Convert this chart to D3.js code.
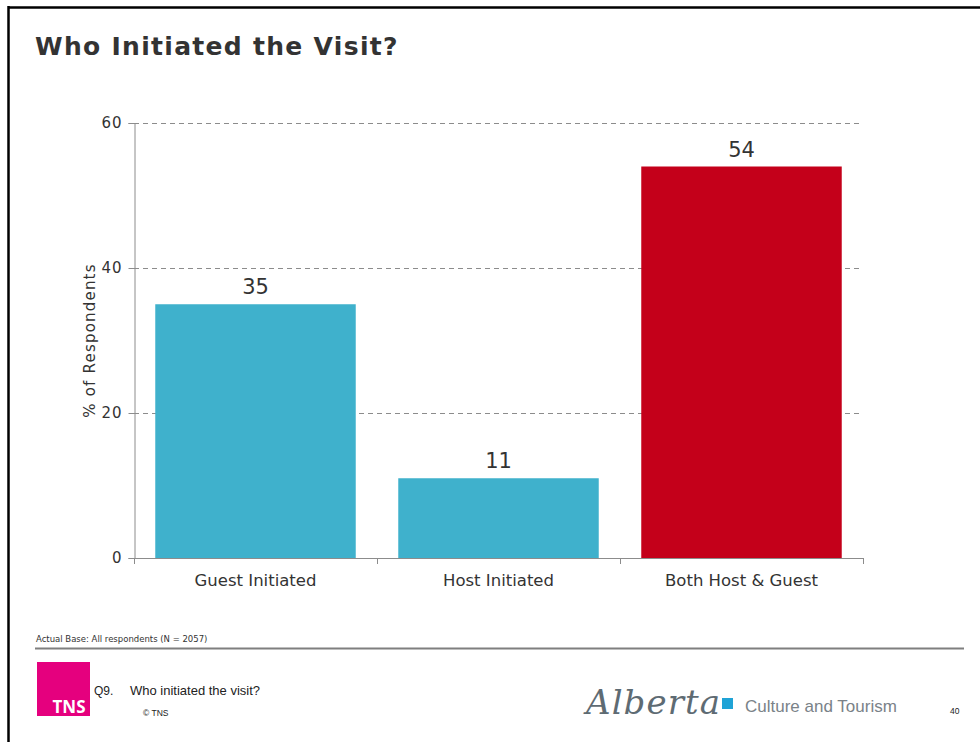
<!DOCTYPE html>
<html>
<head>
<meta charset="utf-8">
<script src="https://cdn.jsdelivr.net/npm/d3@7"></script>
<style>
  html, body { margin: 0; padding: 0; background: #fff; }
  svg { display: block; }
</style>
</head>
<body>
<svg id="chart" width="980" height="742"></svg>
<script>
// Survey results: who initiated the visit
const categories = ["Guest Initiated", "Host Initiated", "Both Host & Guest"];
const values = [35, 11, 54];
const barColors = ["#3fb1cc", "#3fb1cc", "#c4001a"];
const yTicks = [0, 20, 40, 60];

const svg = d3.select("#chart");
const textColor = "#333333";

// slide frame
svg.append("line").attr("x1", 8).attr("x2", 980).attr("y1", 7.5).attr("y2", 7.5)
  .attr("stroke", "#000").attr("stroke-width", 2.5);
svg.append("line").attr("x1", 8.5).attr("x2", 8.5).attr("y1", 6).attr("y2", 742)
  .attr("stroke", "#000").attr("stroke-width", 2.5);

// title
svg.append("text").attr("x", 35).attr("y", 55)
  .attr("font-family", "Verdana, 'DejaVu Sans', sans-serif")
  .attr("font-weight", "bold").attr("font-size", 25).attr("letter-spacing", 1.3)
  .attr("fill", textColor)
  .text("Who Initiated the Visit?");

// plot area
const plotLeft = 134, plotRight = 863, plotTop = 123, plotBottom = 558;
const x = d3.scaleBand().domain(categories).range([plotLeft, plotRight])
  .paddingInner(0.175).paddingOuter(0.0875);
const y = d3.scaleLinear().domain([0, 60]).range([plotBottom, plotTop]);

// dashed gridlines
svg.append("g").selectAll("line").data(yTicks.filter(d => d > 0)).join("line")
  .attr("x1", plotLeft).attr("x2", plotRight)
  .attr("y1", d => Math.round(y(d)) + 0.5).attr("y2", d => Math.round(y(d)) + 0.5)
  .attr("stroke", "#8c8c8c").attr("stroke-width", 1).attr("stroke-dasharray", "5,4");

// bars
svg.append("g").selectAll("rect").data(values).join("rect")
  .attr("x", (d, i) => x(categories[i]))
  .attr("width", x.bandwidth())
  .attr("y", d => y(d))
  .attr("height", d => y(0) - y(d))
  .attr("fill", (d, i) => barColors[i]);

// value labels
svg.append("g").selectAll("text").data(values).join("text")
  .attr("x", (d, i) => x(categories[i]) + x.bandwidth() / 2)
  .attr("y", d => y(d) - 10)
  .attr("text-anchor", "middle")
  .attr("font-family", "'DejaVu Sans', Verdana, sans-serif")
  .attr("font-size", 21).attr("fill", textColor)
  .text(d => d);

// y axis
const yAxis = d3.axisLeft(y).tickValues(yTicks).tickSize(6).tickPadding(6);
const gy = svg.append("g").attr("transform", `translate(${plotLeft + 0.5},0)`).call(yAxis);
gy.select(".domain").attr("stroke", "#8c8c8c");
gy.selectAll(".tick line").attr("stroke", "#8c8c8c");
gy.selectAll(".tick text").attr("font-family", "'DejaVu Sans', Verdana, sans-serif")
  .attr("font-size", 15).attr("letter-spacing", 1).attr("fill", textColor);

// x axis with boundary ticks between categories
svg.append("line").attr("x1", plotLeft).attr("x2", plotRight + 0.5)
  .attr("y1", plotBottom + 0.5).attr("y2", plotBottom + 0.5).attr("stroke", "#8c8c8c");
const bounds = [plotLeft, ...categories.map(c => x(c) + x.step() - x.step() * x.paddingInner() / 2)];
svg.append("g").selectAll("line").data(bounds).join("line")
  .attr("x1", d => Math.round(d) + 0.5).attr("x2", d => Math.round(d) + 0.5)
  .attr("y1", plotBottom).attr("y2", plotBottom + 6).attr("stroke", "#8c8c8c");
svg.append("g").selectAll("text").data(categories).join("text")
  .attr("x", d => x(d) + x.bandwidth() / 2).attr("y", plotBottom + 28)
  .attr("text-anchor", "middle")
  .attr("font-family", "'DejaVu Sans', Verdana, sans-serif")
  .attr("font-size", 16.5).attr("fill", textColor)
  .text(d => d);

// y axis title
svg.append("text")
  .attr("transform", `translate(95,${(plotTop + plotBottom) / 2}) rotate(-90)`)
  .attr("text-anchor", "middle")
  .attr("font-family", "'DejaVu Sans', Verdana, sans-serif")
  .attr("font-size", 15).attr("letter-spacing", 1.2).attr("fill", textColor)
  .text("% of Respondents");

// footer
svg.append("text").attr("x", 36).attr("y", 642)
  .attr("font-family", "'DejaVu Sans', sans-serif").attr("font-size", 8.5).attr("fill", "#333")
  .text("Actual Base: All respondents (N = 2057)");
svg.append("line").attr("x1", 35).attr("x2", 964).attr("y1", 648.5).attr("y2", 648.5)
  .attr("stroke", "#7f7f7f").attr("stroke-width", 2);

svg.append("rect").attr("x", 37).attr("y", 662).attr("width", 53).attr("height", 54)
  .attr("fill", "#e5007e");
svg.append("text").attr("x", 69).attr("y", 713).attr("text-anchor", "middle")
  .attr("font-family", "'Open Sans', 'DejaVu Sans', sans-serif").attr("font-weight", "bold")
  .attr("font-size", 17).attr("fill", "#fff").text("TNS");

svg.append("text").attr("x", 94).attr("y", 695)
  .attr("font-family", "'Liberation Sans', Arial, sans-serif").attr("font-size", 12).attr("fill", "#222")
  .text("Q9.");
svg.append("text").attr("x", 130).attr("y", 695)
  .attr("font-family", "'Liberation Sans', Arial, sans-serif").attr("font-size", 13).attr("fill", "#222")
  .text("Who initiated the visit?");
svg.append("text").attr("x", 143).attr("y", 716)
  .attr("font-family", "'Liberation Sans', Arial, sans-serif").attr("font-size", 8.5).attr("fill", "#222")
  .text("© TNS");

// partner logo
svg.append("text").attr("x", 586).attr("y", 714)
  .attr("font-family", "'DejaVu Serif', serif").attr("font-style", "italic")
  .attr("font-size", 34).attr("fill", "#5e6b73").attr("textLength", 134)
  .text("Alberta");
svg.append("rect").attr("x", 722).attr("y", 698).attr("width", 11).attr("height", 11)
  .attr("fill", "#1fa3d6");
svg.append("text").attr("x", 745).attr("y", 712)
  .attr("font-family", "'Liberation Sans', Arial, sans-serif").attr("font-size", 17).attr("fill", "#7a8288")
  .text("Culture and Tourism");
svg.append("text").attr("x", 950).attr("y", 714)
  .attr("font-family", "'Liberation Sans', Arial, sans-serif").attr("font-size", 8.5).attr("fill", "#222")
  .text("40");
</script>
</body>
</html>
